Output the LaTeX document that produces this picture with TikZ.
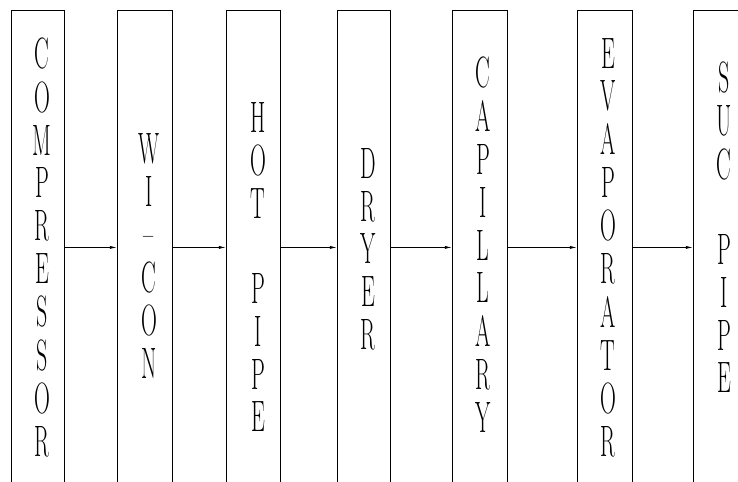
\documentclass[tikz,border=0pt]{standalone}
\usepackage{fontspec}
\usepackage{graphicx}
\usepackage{tikz}
\usetikzlibrary{arrows.meta,positioning}
\tikzset{unit/.style={draw,line width=0.7pt,anchor=north west,inner sep=0pt,minimum height=14.22cm},
  letters/.style={anchor=north,inner sep=0pt,font=\fontsize{37.5}{36.3}\selectfont},
  flow/.style={line width=0.7pt,-{Latex[length=6pt,width=2.6pt]}}}
\newcommand{\vword}[1]{\scalebox{0.5}[1]{\begin{tabular}{@{}c@{}}#1\end{tabular}}}

\begin{document}
\begin{tikzpicture}[x=0.03cm,y=0.03cm]
  \useasboundingbox (0,0) rectangle (738,481);
  % stages
  \node[unit,minimum width=1.59cm] (comp)  at (11,471) {};
  \node[unit,minimum width=1.65cm] (wicon) at (117,471) {};
  \node[unit,minimum width=1.62cm] (hot)   at (226,471) {};
  \node[unit,minimum width=1.59cm] (dryer) at (337,471) {};
  \node[unit,minimum width=1.65cm] (cap)   at (452,471) {};
  \node[unit,minimum width=1.65cm] (evap)  at (577,471) {};
  \node[unit,minimum width=2.2cm]  (suc)   at (693,471) {};
  % labels
  \node[letters] (compText)  at (42,443)  {\vword{C\\O\\M\\P\\R\\E\\S\\S\\O\\R}};
  \node[letters] (wiconText) at (149,348) {\vword{W\\I\\--\\C\\O\\N}};
  \node[letters] (hotText)   at (258,379) {\vword{H\\O\\T\\~\\P\\I\\P\\E}};
  \node[letters] (dryerText) at (368,333) {\vword{D\\R\\Y\\E\\R}};
  \node[letters] (capText)   at (483,424) {\vword{C\\A\\P\\I\\L\\L\\A\\R\\Y}};
  \node[letters] (evapText)  at (608,443) {\vword{E\\V\\A\\P\\O\\R\\A\\T\\O\\R}};
  \node[letters] (sucText)   at (724,419) {\vword{S\\U\\C\\~\\P\\I\\P\\E}};
  % refrigerant flow
  \draw[flow] (comp) -- (wicon);
  \draw[flow] (wicon) -- (hot);
  \draw[flow] (hot) -- (dryer);
  \draw[flow] (dryer) -- (cap);
  \draw[flow] (cap) -- (evap);
  \draw[flow] (evap) -- (suc);
\end{tikzpicture}
\end{document}
